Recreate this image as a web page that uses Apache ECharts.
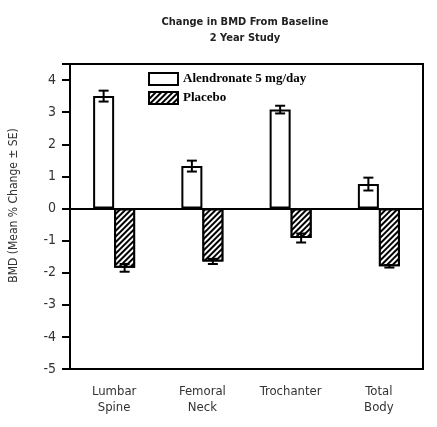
<!DOCTYPE html>
<html><head><meta charset="utf-8">
<script src="https://cdn.jsdelivr.net/npm/echarts@6/dist/echarts.min.js"></script>
<style>html,body{margin:0;padding:0;background:#fff}#c{width:437px;height:427px}</style>
</head><body><div id="c"></div>
<script>
const categories = ['Lumbar\nSpine', 'Femoral\nNeck', 'Trochanter', 'Total\nBody'];
const alendronate = [3.5, 1.32, 3.08, 0.76];
const alendronateSE = [0.17, 0.17, 0.12, 0.2];
const placebo = [-1.85, -1.65, -0.92, -1.8];
const placeboSE = [0.12, 0.08, 0.14, 0.04];
const yTicks = [-5, -4, -3, -2, -1, 0, 1, 2, 3, 4];

const BAR_W = 21;
const FONT = '"Liberation Sans Narrow", "DejaVu Sans Condensed", "Liberation Sans", Arial';
const chart = echarts.init(document.getElementById('c'));

function errSeries(name, vals, errs, side) {
  return {
    type: 'custom', name: name + ' SE', z: 5, silent: true,
    data: vals.map((v, i) => [i, v, errs[i]]),
    renderItem: function (params, api) {
      const i = api.value(0), v = api.value(1), e = api.value(2);
      const c = api.coord([i, v]);
      const x = c[0] + side * BAR_W / 2;
      const yHi = api.coord([i, v + e])[1];
      const yLo = api.coord([i, v - e])[1];
      const cap = 5;
      const st = { stroke: '#000', lineWidth: 2 };
      return { type: 'group', children: [
        { type: 'line', shape: { x1: x, y1: yHi, x2: x, y2: yLo }, style: st },
        { type: 'line', shape: { x1: x - cap, y1: yHi, x2: x + cap, y2: yHi }, style: st },
        { type: 'line', shape: { x1: x - cap, y1: yLo, x2: x + cap, y2: yLo }, style: st }
      ]};
    }
  };
}

chart.setOption({
  backgroundColor: '#fff',
  animation: false,
  title: {
    text: 'Change in BMD From Baseline\n2 Year Study',
    left: 240, top: 9, textAlign: 'center',
    textStyle: { fontFamily: FONT, fontWeight: 'bold', fontSize: 11, lineHeight: 16, color: '#222' }
  },
  legend: {
    orient: 'vertical', left: 143, top: 67, itemWidth: 29, itemHeight: 12, itemGap: 5,
    icon: 'rect',
    data: ['Alendronate 5 mg/day', 'Placebo'],
    textStyle: { fontFamily: 'Liberation Serif, DejaVu Serif, serif', fontWeight: 'bold', fontSize: 13, color: '#000' }
  },
  grid: { left: 66, right: 14, top: 64, bottom: 58, show: true, borderColor: '#000', borderWidth: 2, backgroundColor: 'transparent' },
  xAxis: {
    type: 'category', data: categories,
    axisLine: { onZero: false, lineStyle: { color: '#000', width: 2 } },
    axisTick: { alignWithLabel: true, length: 7, lineStyle: { color: '#000', width: 2 } },
    axisLabel: { margin: 15, fontFamily: FONT, fontSize: 13, lineHeight: 16, color: '#333' }
  },
  yAxis: {
    type: 'value', min: -5, max: 4.5, interval: 1,
    name: 'BMD (Mean % Change ± SE)', nameLocation: 'middle', nameGap: 50,
    nameTextStyle: { fontFamily: FONT, fontSize: 12, color: '#333', padding: [0, 0, 0, 22] },
    axisLine: { show: true, lineStyle: { color: '#000', width: 2 } },
    axisTick: { show: true, length: 8, lineStyle: { color: '#000', width: 2 } },
    splitLine: { show: false },
    axisLabel: {
      margin: 14, fontFamily: FONT, fontSize: 14, color: '#333',
      formatter: v => yTicks.indexOf(v) >= 0 ? String(v) : ''
    }
  },
  series: [
    {
      name: 'Alendronate 5 mg/day', type: 'bar', data: alendronate, barWidth: BAR_W, barGap: '0%',
      itemStyle: { color: '#fff', borderColor: '#000', borderWidth: 2 },
      markLine: { silent: true, symbol: 'none', label: { show: false }, lineStyle: { color: '#000', width: 2, type: 'solid' }, data: [{ yAxis: 0 }] }
    },
    {
      name: 'Placebo', type: 'bar', data: placebo, barWidth: BAR_W, barGap: '0%',
      itemStyle: {
        color: '#fff', borderColor: '#000', borderWidth: 2,
        decal: { symbol: 'rect', symbolSize: 1, dashArrayX: [[1, 0]], dashArrayY: [2, 2], rotation: -Math.PI / 4, color: '#000', backgroundColor: '#fff' }
      }
    },
    errSeries('Alendronate', alendronate, alendronateSE, -1),
    errSeries('Placebo', placebo, placeboSE, 1)
  ]
});
</script></body></html>
